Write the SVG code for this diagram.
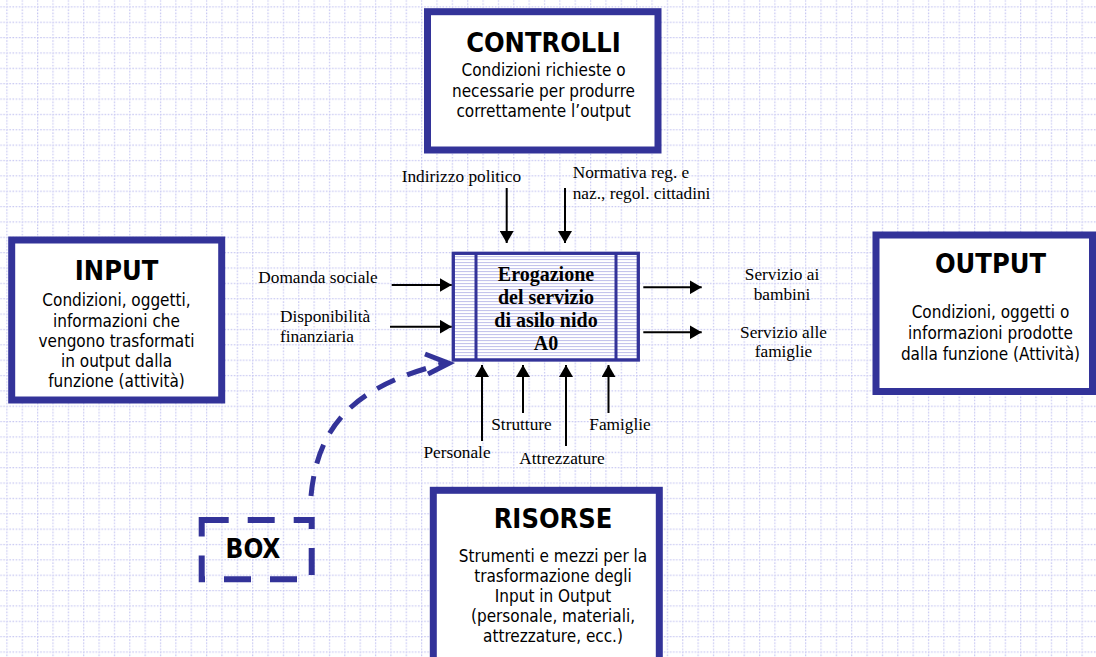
<svg xmlns="http://www.w3.org/2000/svg" width="1096" height="657" viewBox="0 0 1096 657">
<defs>
<pattern id="grid" patternUnits="userSpaceOnUse" x="6.3" y="6.3" width="15.36" height="15.36">
<line x1="0" y1="0.5" x2="15.36" y2="0.5" stroke="#c8c8f2" stroke-width="1.4" stroke-dasharray="1.6 1.5"/>
<line x1="0.5" y1="0" x2="0.5" y2="15.36" stroke="#c8c8f2" stroke-width="1.4" stroke-dasharray="1.6 1.5"/>
</pattern>
<pattern id="stripes" patternUnits="userSpaceOnUse" x="0" y="0" width="10" height="3">
<rect width="10" height="3" fill="#ffffff"/>
<rect y="1" width="10" height="1.1" fill="#c4c4ec"/>
</pattern>
<marker id="ah" markerUnits="userSpaceOnUse" viewBox="0 0 12 14" refX="12" refY="7" markerWidth="12" markerHeight="14" orient="auto">
<path d="M0,0 L12,7 L0,14 z" fill="#000"/>
</marker>
<style>
.frame{fill:#fff;stroke:#333399;stroke-width:7}
.title{font-family:"DejaVu Sans Condensed","DejaVu Sans",sans-serif;font-stretch:condensed;font-weight:bold;font-size:27px;fill:#000;text-anchor:middle}
.body{font-family:"DejaVu Sans Condensed","DejaVu Sans",sans-serif;font-stretch:condensed;font-size:17px;fill:#000;text-anchor:middle}
.lbl{font-family:"Liberation Serif","Times New Roman",serif;font-size:17.3px;fill:#000}
.mid{text-anchor:middle}
.conn{stroke:#000;stroke-width:2;fill:none;marker-end:url(#ah)}
</style>
</defs>
<rect width="1096" height="657" fill="#fff"/>
<rect width="1096" height="657" fill="url(#grid)"/>

<g id="controlli">
<rect class="frame" x="427.5" y="11.7" width="230.5" height="138.3"/>
<text class="title" x="543.5" y="51.7">CONTROLLI</text>
<text class="body" x="543.5" y="76">Condizioni richieste o</text>
<text class="body" x="543.5" y="96.5">necessarie per produrre</text>
<text class="body" x="543.5" y="117">correttamente l’output</text>
</g>

<g id="input">
<rect class="frame" x="11.7" y="240" width="210" height="160"/>
<text class="title" x="116.5" y="280">INPUT</text>
<text class="body" x="116.5" y="306">Condizioni, oggetti,</text>
<text class="body" x="116.5" y="326.5">informazioni che</text>
<text class="body" x="116.5" y="346.5">vengono trasformati</text>
<text class="body" x="116.5" y="366.5">in output dalla</text>
<text class="body" x="116.5" y="386.5">funzione (attività)</text>
</g>

<g id="output">
<rect class="frame" x="876" y="235" width="216.5" height="156.5"/>
<text class="title" x="990.5" y="273">OUTPUT</text>
<text class="body" x="990.5" y="318">Condizioni, oggetti o</text>
<text class="body" x="990.5" y="339">informazioni prodotte</text>
<text class="body" x="990.5" y="360">dalla funzione (Attività)</text>
</g>

<g id="risorse">
<rect class="frame" x="433.3" y="490.3" width="226" height="190"/>
<text class="title" x="553" y="528">RISORSE</text>
<text class="body" x="553" y="561.5">Strumenti e mezzi per la</text>
<text class="body" x="553" y="581.5">trasformazione degli</text>
<text class="body" x="553" y="601.5">Input in Output</text>
<text class="body" x="553" y="621.5">(personale, materiali,</text>
<text class="body" x="553" y="641.5">attrezzature, ecc.)</text>
</g>

<g id="a0">
<rect x="453.3" y="253.3" width="185" height="106.7" fill="url(#stripes)" stroke="#333399" stroke-width="3.3"/>
<line x1="476" y1="253.3" x2="476" y2="360" stroke="#333399" stroke-width="3"/>
<line x1="616" y1="253.3" x2="616" y2="360" stroke="#333399" stroke-width="3"/>
<g class="lbl mid" style="font-size:20px;font-weight:bold">
<text x="546" y="280.5">Erogazione</text>
<text x="546" y="303.5">del servizio</text>
<text x="546" y="326.5">di asilo nido</text>
<text x="546" y="350">A0</text>
</g>
</g>

<g id="box">
<rect x="201.7" y="520" width="110" height="59.3" fill="none" stroke="#333399" stroke-width="6" stroke-dasharray="27 19"/>
<text class="title" x="253" y="558.3" style="font-size:26px">BOX</text>
</g>

<g id="labels">
<text class="lbl" x="401.7" y="181.5">Indirizzo politico</text>
<text class="lbl" x="572.7" y="178.3">Normativa reg. e</text>
<text class="lbl" x="572.7" y="199.3">naz., regol. cittadini</text>
<text class="lbl" x="258.3" y="283.3">Domanda sociale</text>
<text class="lbl" x="280" y="321.7">Disponibilità</text>
<text class="lbl" x="280" y="341.7">finanziaria</text>
<text class="lbl mid" x="782" y="280">Servizio ai</text>
<text class="lbl mid" x="782" y="300">bambini</text>
<text class="lbl mid" x="783.5" y="338.3">Servizio alle</text>
<text class="lbl mid" x="783.5" y="356.7">famiglie</text>
<text class="lbl mid" x="457" y="458">Personale</text>
<text class="lbl mid" x="521.5" y="430">Strutture</text>
<text class="lbl mid" x="562" y="464">Attrezzature</text>
<text class="lbl mid" x="620" y="430">Famiglie</text>
</g>

<g id="connectors">
<line class="conn" x1="506.7" y1="188" x2="506.7" y2="243"/>
<line class="conn" x1="565" y1="188" x2="565" y2="243"/>
<line class="conn" x1="391.7" y1="285" x2="451.7" y2="285"/>
<line class="conn" x1="390" y1="326.7" x2="451.7" y2="326.7"/>
<line class="conn" x1="643.3" y1="287.3" x2="701.7" y2="287.3"/>
<line class="conn" x1="643.3" y1="332.3" x2="701.7" y2="332.3"/>
<line class="conn" x1="482" y1="441" x2="482" y2="365"/>
<line class="conn" x1="523" y1="413" x2="523" y2="365"/>
<line class="conn" x1="566" y1="446" x2="566" y2="365"/>
<line class="conn" x1="608.5" y1="413" x2="608.5" y2="365"/>
<path d="M311,496 C318,420 360,385 444,363.5" fill="none" stroke="#333399" stroke-width="5" stroke-dasharray="20 13"/>
<path d="M425,354 L449,363.3 L428,374" fill="none" stroke="#333399" stroke-width="5" stroke-linejoin="miter"/>
</g>
</svg>
